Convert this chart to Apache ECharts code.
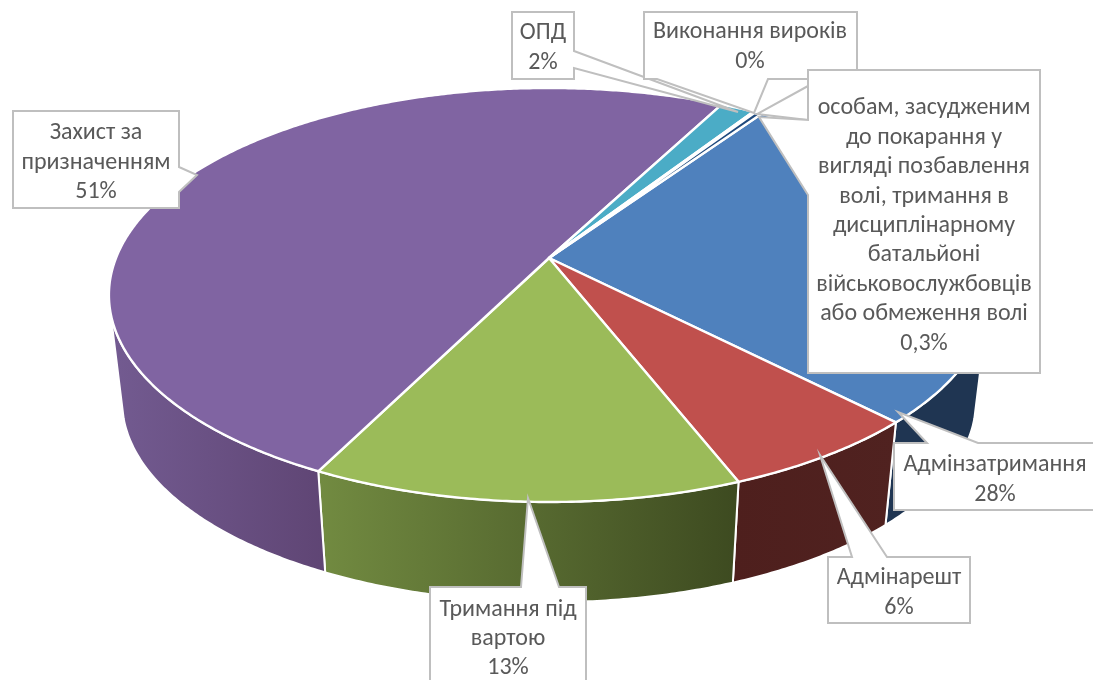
<!DOCTYPE html>
<html><head><meta charset="utf-8">
<style>html,body{margin:0;padding:0;background:#fff}#c{width:1093px;height:680px}</style>
<script src="https://cdn.jsdelivr.net/npm/echarts@6/dist/echarts.min.js"></script>
</head><body><div id="c"></div>
<script>
// ---- data (clockwise from the slice edge at the top right) ----
const categories = ['Адмінзатримання','Адмінарешт','Тримання під вартою','Захист за призначенням','ОПД','Виконання вироків','особам, засудженим до покарання у вигляді позбавлення волі, тримання в дисциплінарному батальйоні військовослужбовців або обмеження волі'];
const sliceValues = [28.3,6.4,13.4,50.5,1.5,0.1,0.3];
const percentLabels = ['28%','6%','13%','51%','2%','0%','0,3%'];
const labelLines = [
  ['Адмінзатримання'],['Адмінарешт'],['Тримання під','вартою'],['Захист за','призначенням'],['ОПД'],['Виконання вироків'],
  ['особам, засудженим','до покарання у','вигляді позбавлення','волі, тримання в','дисциплінарному','батальйоні','військовослужбовців','або обмеження волі']
];
// ---- styles ----
const topColors = ['#4f81bd','#c0504d','#9bbb59','#8064a2','#4bacc6','#2c4d75','#1f497d'];
const wallColors = [['#1f3552','#1f3552'],['#4e1f1d','#502220'],['#728b41','#3d4a20'],['#735b91','#5f4574'],['#2f6a7a','#2f6a7a'],['#1f3552','#1f3552'],['#1f3552','#1f3552']];
// ---- projection of the tilted disc (layout) ----
const CX=549, CY=258, RX=433, RY=200.4, P=0.1787, START=34.3, WALL_SCALE=0.97, WALL_CY=365.5, WALL_FROM=105, WALL_TO=255;
const total = sliceValues.reduce((a,b)=>a+b,0);
const angles=[]; sliceValues.reduce((acc,v)=>{angles.push([acc,acc+v/total*360]);return acc+v/total*360;},START);
function ring(deg,s,cy){const t=deg*Math.PI/180,d=1+P*Math.cos(t);return [CX+s*RX*Math.sin(t)/d, cy-s*RY*Math.cos(t)/d];}
function arc(a,b,s,cy){const pts=[],n=Math.max(2,Math.ceil((b-a)*2));for(let i=0;i<=n;i++)pts.push(ring(a+(b-a)*i/n,s,cy));return pts;}
// ---- label boxes (layout): outline polygon, text centre ----
const boxes=[
 {poly:[[894,443],[927,443],[898,412],[978,443],[1096,443],[1096,510],[894,510]],tx:995,ty:480},
 {poly:[[828,557],[852,557],[820,455],[887,557],[970,557],[970,623],[828,623]],tx:899,ty:593},
 {poly:[[430,587],[521,587],[528,498],[559,587],[586,587],[586,690],[430,690]],tx:508,ty:639},
 {poly:[[13,111],[179,111],[179,167],[197,175],[179,192],[179,208],[13,208]],tx:96,ty:162.5},
 {poly:[[512,12],[574,12],[574,51],[738,112],[574,68],[574,79],[512,79]],tx:543,ty:48},
 {poly:[[644,12],[857,12],[857,79],[768,79],[754,113],[657,79],[644,79]],tx:750,ty:47},
 {poly:[[808,70],[1040,70],[1040,373],[808,373],[808,195],[759,117],[808,120]],tx:924,ty:226,extra:[[808,86],[757,114],[808,120]]}
];
const FONT="24px Carlito, Lato, 'Open Sans', 'Noto Sans', sans-serif";
const wallSeries={type:'custom',coordinateSystem:'none',z:1,silent:true,data:sliceValues,
 renderItem(p){
  const i=p.dataIndex, a=Math.max(angles[i][0],WALL_FROM), b=Math.min(angles[i][1],WALL_TO);
  if(b<=a) return {type:'group',children:[]};
  return {type:'polygon',
    shape:{points:arc(a,b,1,CY).concat(arc(a,b,WALL_SCALE,WALL_CY).reverse())},
    style:{fill:new echarts.graphic.LinearGradient(0,0,1,0,[{offset:0,color:wallColors[i][0]},{offset:1,color:wallColors[i][1]}]),stroke:'#fff',lineWidth:2,lineJoin:'round'}};
 }};
const topSeries={type:'custom',coordinateSystem:'none',z:2,silent:true,data:sliceValues,
 renderItem(p){
  const i=p.dataIndex;
  return {type:'polygon',shape:{points:[[CX,CY]].concat(arc(angles[i][0],angles[i][1],1,CY))},
    style:{fill:topColors[i],stroke:'#fff',lineWidth:2.4,lineJoin:'round'}};
 }};
const labelSeries={type:'custom',coordinateSystem:'none',z:3,silent:true,data:percentLabels,
 renderItem(p){
  const i=p.dataIndex,b=boxes[i],kids=[];
  if(b.extra)kids.push({type:'polygon',shape:{points:b.extra},style:{fill:'#fff',stroke:'#bfbfbf',lineWidth:2}});
  kids.push({type:'polygon',shape:{points:b.poly},style:{fill:'#fff',stroke:'#bfbfbf',lineWidth:2}});
  kids.push({type:'text',style:{text:labelLines[i].concat(percentLabels[i]).join('\n'),x:b.tx,y:b.ty,align:'center',verticalAlign:'middle',font:FONT,lineHeight:29.4,fill:'#595959'}});
  return {type:'group',children:kids};
 }};
const chart=echarts.init(document.getElementById('c'),null,{renderer:'canvas'});
chart.setOption({animation:false,backgroundColor:'#fff',series:[wallSeries,topSeries,labelSeries]});
</script></body></html>
